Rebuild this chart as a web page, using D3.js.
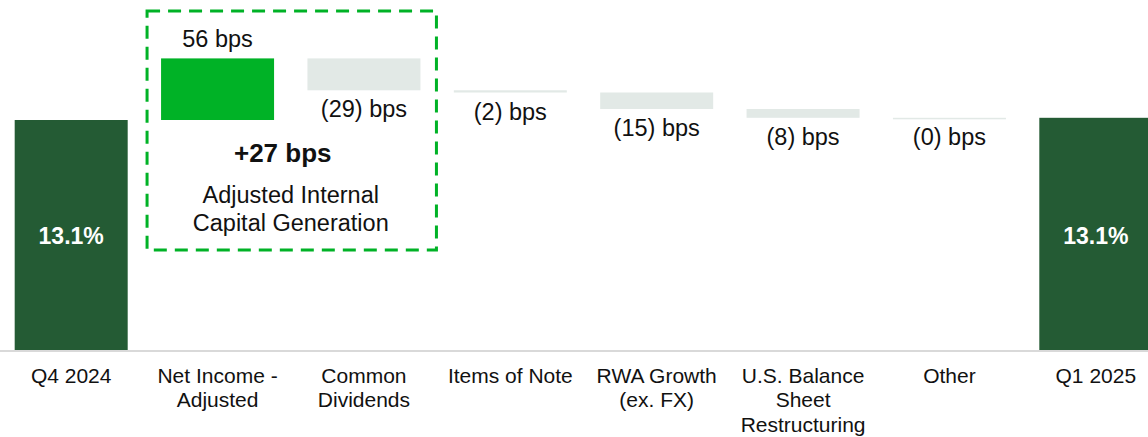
<!DOCTYPE html>
<html>
<head>
<meta charset="utf-8">
<script src="https://cdn.jsdelivr.net/npm/d3@7"></script>
<style>
  html, body { margin: 0; padding: 0; background: #fff; }
  svg { display: block; font-family: "Liberation Sans", Arial, sans-serif; }
</style>
</head>
<body>
<svg id="chart" width="1148" height="437"></svg>
<script>
// ---- data ----
const categories = [
  ["Q4 2024"],
  ["Net Income -", "Adjusted"],
  ["Common", "Dividends"],
  ["Items of Note"],
  ["RWA Growth", "(ex. FX)"],
  ["U.S. Balance", "Sheet", "Restructuring"],
  ["Other"],
  ["Q1 2025"]
];
const startRatio = 13.10;               // CET1 ratio, %
const deltasBps = [56, -29, -2, -15, -8, 0];
const groupTitle = ["Adjusted Internal", "Capital Generation"];

// ---- derived ----
const endRatio = startRatio + d3.sum(deltasBps) / 100;
const bars = [];
bars.push({ i: 0, type: "total", y0: 0, y1: startRatio, label: startRatio.toFixed(1) + "%" });
let run = startRatio;
deltasBps.forEach((d, k) => {
  const next = run + d / 100;
  bars.push({ i: k + 1, type: d > 0 ? "pos" : "neg", y0: run, y1: next, v: d,
    label: (d > 0 ? d : "(" + Math.abs(d) + ")") + " bps" });
  run = next;
});
bars.push({ i: 7, type: "total", y0: 0, y1: endRatio, label: endRatio.toFixed(1) + "%" });

const W = 1148, H = 437;
const svg = d3.select("#chart");

const x = d3.scaleBand().domain(d3.range(categories.length))
  .range([-2, 1169]).paddingInner(0.228).paddingOuter(0.114);
const y = d3.scaleLinear().domain([11.0, 14.0]).range([351, 21]);

const colors = { total: "#245b34", pos: "#00b226", neg: "#e2e9e6" };

// bars
svg.append("g").selectAll("rect").data(bars).join("rect")
  .attr("x", d => x(d.i))
  .attr("width", x.bandwidth())
  .attr("y", d => d.type === "total" ? y(d.y1) : y(Math.max(d.y0, d.y1)))
  .attr("height", d => d.type === "total" ? y.range()[0] - y(d.y1)
                       : Math.max(1.5, Math.abs(y(d.y0) - y(d.y1))))
  .attr("fill", d => colors[d.type]);

// x axis
const axis = svg.append("g").attr("transform", `translate(0,${y.range()[0]})`)
  .call(d3.axisBottom(x).tickSize(0).tickFormat(""));
axis.select(".domain").attr("d", `M0,0H${W}`).attr("stroke", "#d9d9d9").attr("stroke-width", 2);
axis.selectAll(".tick text").remove();
axis.selectAll(".tick").append("text")
  .attr("text-anchor", "middle").attr("fill", "#111").style("font-size", "21px")
  .each(function(i) {
    const t = d3.select(this);
    categories[i].forEach((line, k) => {
      t.append("tspan").attr("x", 0).attr("y", 32 + k * 24.3).text(line);
    });
  });

// total labels
svg.append("g").selectAll("text").data(bars.filter(b => b.type === "total")).join("text")
  .attr("x", d => x(d.i) + x.bandwidth() / 2)
  .attr("y", 244)
  .attr("text-anchor", "middle").attr("fill", "#fff")
  .style("font-size", "23px").style("font-weight", "bold")
  .text(d => d.label);

// delta labels
svg.append("g").selectAll("text").data(bars.filter(b => b.type !== "total")).join("text")
  .attr("x", d => x(d.i) + x.bandwidth() / 2)
  .attr("y", d => d.type === "pos" ? y(d.y1) - 11 : y(Math.min(d.y0, d.y1)) + 27)
  .attr("text-anchor", "middle").attr("fill", "#111")
  .style("font-size", "23.5px")
  .text(d => d.label);

// adjusted internal capital generation box
const bx0 = x(1) - 14, bx1 = x(2) + x.bandwidth() + 16;
const cx = (bx0 + bx1) / 2;
svg.append("rect")
  .attr("x", bx0).attr("y", 11).attr("width", bx1 - bx0).attr("height", 239)
  .attr("fill", "none").attr("stroke", "#00b226").attr("stroke-width", 3)
  .attr("stroke-dasharray", "13 8");
const gen = deltasBps[0] + deltasBps[1];
svg.append("text").attr("x", cx - 9).attr("y", 162).attr("text-anchor", "middle")
  .attr("fill", "#111").style("font-size", "26px").style("font-weight", "bold")
  .text((gen >= 0 ? "+" : "") + gen + " bps");
svg.append("text").attr("text-anchor", "middle").attr("fill", "#111").style("font-size", "23.5px")
  .selectAll("tspan").data(groupTitle).join("tspan")
  .attr("x", cx - 1).attr("y", (d, k) => 203 + k * 28).text(d => d);
</script>
</body>
</html>
